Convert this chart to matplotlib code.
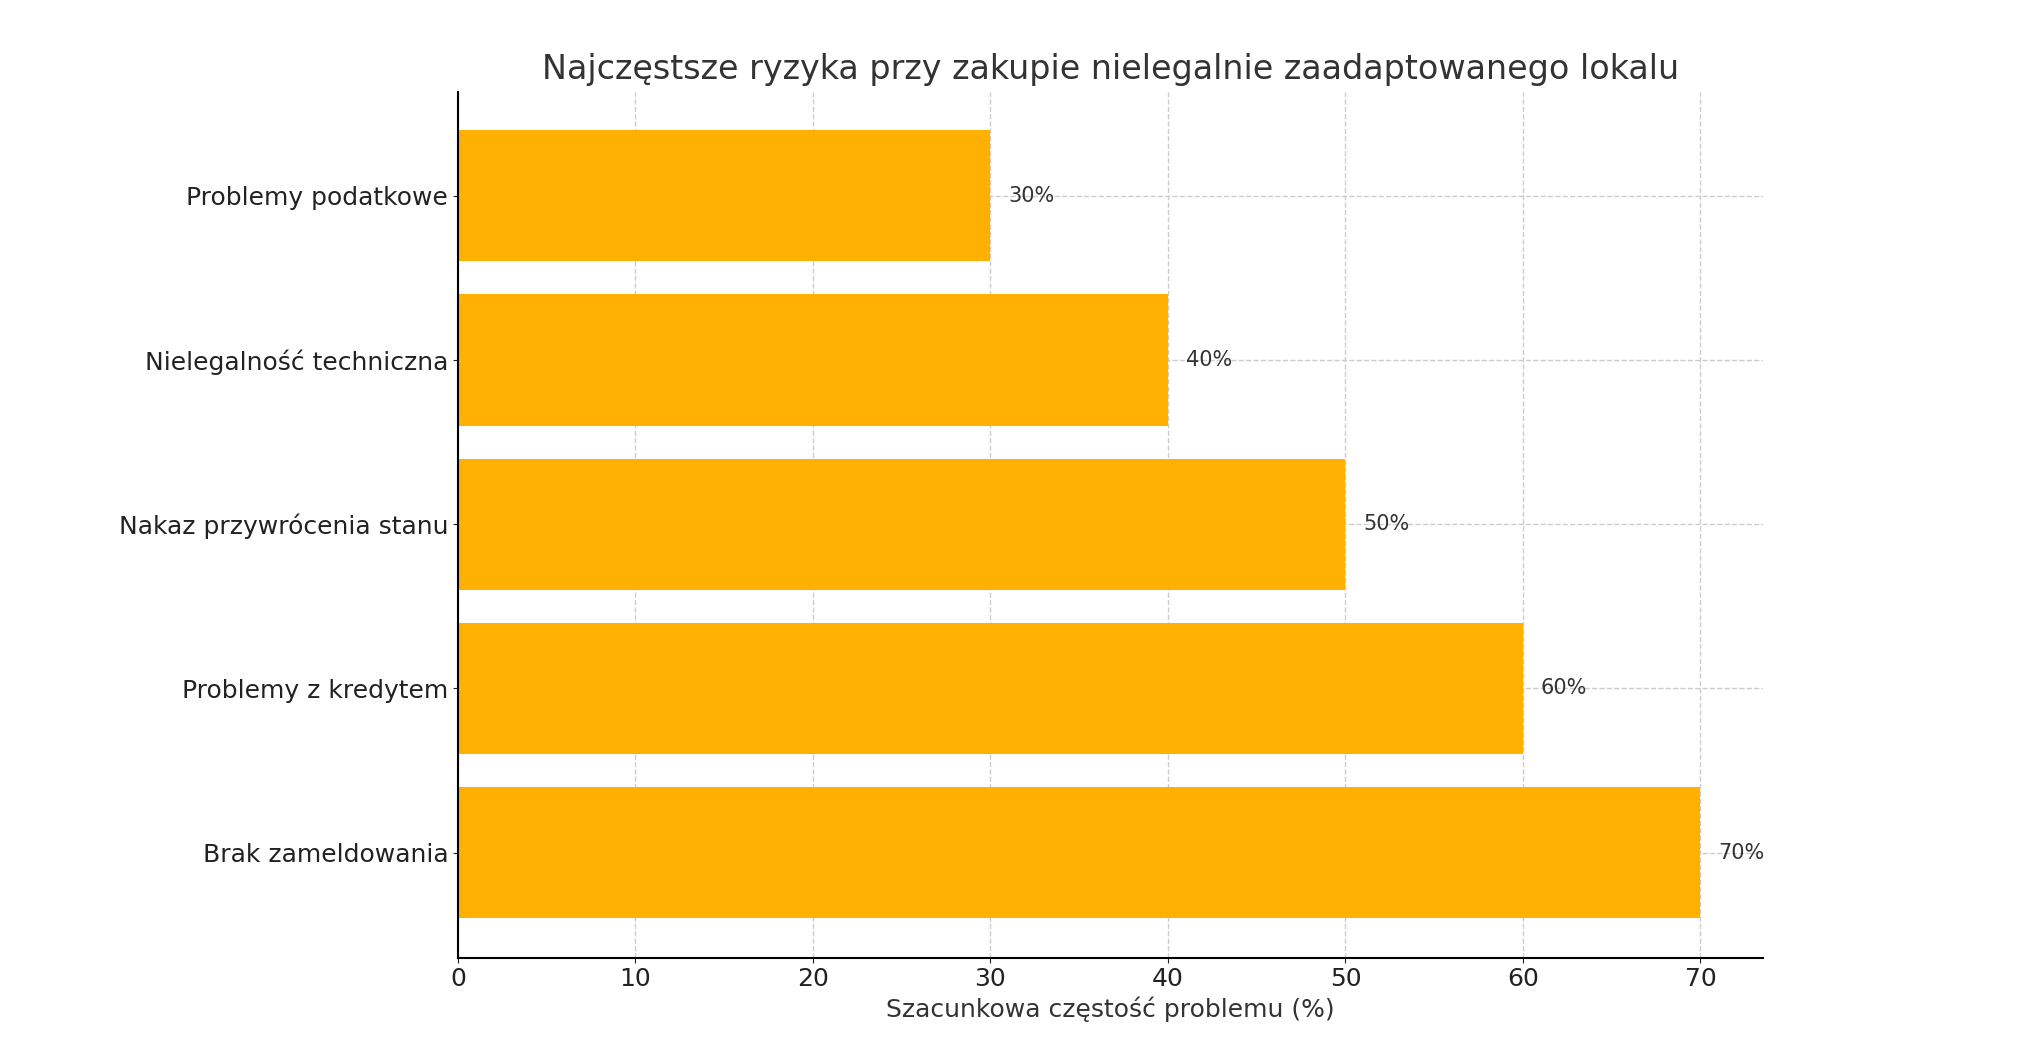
import matplotlib
matplotlib.use("Agg")
import matplotlib.pyplot as plt

categories = ["Brak zameldowania", "Problemy z kredytem", "Nakaz przywrócenia stanu",
              "Nielegalność techniczna", "Problemy podatkowe"]
values = [70, 60, 50, 40, 30]

fig = plt.figure(figsize=(20.26, 10.5), dpi=100)
ax = fig.add_axes([0.226, 0.088, 0.644, 0.824])
bars = ax.barh(categories, values, height=0.8, color="#FFB000", zorder=2)
for b, v in zip(bars, values):
    ax.text(v + 1, b.get_y() + b.get_height() / 2, f"{v}%", va="center", ha="left",
            fontsize=15, color="#333333")
ax.set_xlim(0, 73.5)
ax.set_ylim(-0.64, 4.63)
ax.grid(True, linestyle="--", color="#cccccc", linewidth=1, zorder=0)
ax.set_axisbelow(True)
for s in ["top", "right"]:
    ax.spines[s].set_visible(False)
ax.spines["left"].set_linewidth(1.5)
ax.spines["bottom"].set_linewidth(1.5)
ax.tick_params(labelsize=18, colors="#222222")
ax.set_xlabel("Szacunkowa częstość problemu (%)", fontsize=18, color="#333333")
ax.set_title("Najczęstsze ryzyka przy zakupie nielegalnie zaadaptowanego lokalu",
             fontsize=24, color="#333333", pad=10)
fig.savefig("out.png", dpi=100)
